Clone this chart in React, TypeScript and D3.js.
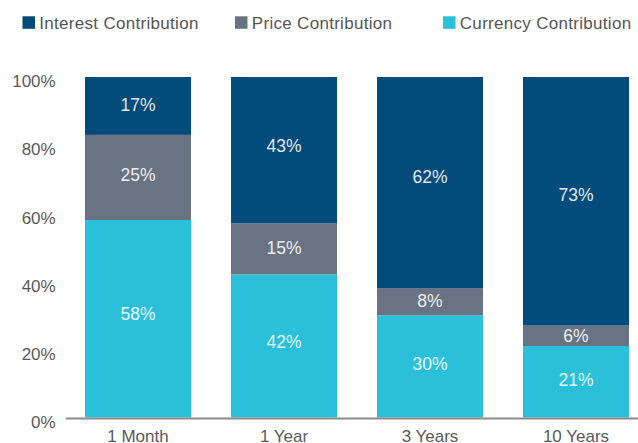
import React from "react";
import * as d3 from "d3";

const categories = ["1 Month", "1 Year", "3 Years", "10 Years"];
const currency = [58, 42, 30, 21];
const price = [25, 15, 8, 6];
const interest = [17, 43, 62, 73];
const seriesNames = ["Interest Contribution", "Price Contribution", "Currency Contribution"];
const yTicks = [0, 20, 40, 60, 80, 100];

const colors: Record<string, string> = {
  currency: "#2ac0da",
  price: "#687384",
  interest: "#034b7a",
};

const W = 638;
const H = 443;
const FONT = "'Liberation Sans', Arial, Helvetica, sans-serif";

export default function App() {
  const x = d3
    .scaleBand<string>()
    .domain(categories)
    .range([54, 660])
    .paddingInner(40 / 146)
    .paddingOuter(31 / 146);
  const y = d3.scaleLinear().domain([0, 100]).range([417.5, 77]);

  const rows = categories.map((c, i) => ({
    cat: c,
    currency: currency[i],
    price: price[i],
    interest: interest[i],
  }));
  const stack = d3.stack<any>().keys(["currency", "price", "interest"]);
  const layers = stack(rows);

  const legendX = [22.5, 235, 443];
  const legendColors = [colors.interest, colors.price, colors.currency];

  return (
    <svg
      width={W}
      height={H}
      style={{ position: "absolute", left: 0, top: 0, background: "#fff" }}
      fontFamily={FONT}
    >
      {/* legend */}
      {seriesNames.map((n, i) => (
        <g key={n}>
          <rect x={legendX[i]} y={16.3} width={12.5} height={12.5} fill={legendColors[i]} />
          <text
            x={legendX[i] + 16.8}
            y={28.7}
            fontSize={17}
            fill="#555"
            letterSpacing={0.3}
          >
            {n}
          </text>
        </g>
      ))}

      {/* bars */}
      {layers.map((layer) => (
        <g key={layer.key} fill={colors[layer.key]}>
          {layer.map((d, i) => (
            <rect
              key={i}
              x={x(categories[i])}
              y={y(d[1])}
              width={x.bandwidth()}
              height={y(d[0]) - y(d[1])}
            />
          ))}
        </g>
      ))}

      {/* bar labels */}
      {layers.map((layer) => (
        <g key={layer.key + "-lbl"}>
          {layer.map((d, i) => {
            const top = y(d[1]);
            const bot = y(d[0]);
            const h = bot - top;
            const cy = (top + bot) / 2 - 0.028 * h;
            return (
              <text
                key={i}
                x={(x(categories[i]) as number) + x.bandwidth() / 2}
                y={cy + 6.3}
                textAnchor="middle"
                fontSize={17.5}
                fill="#ffffff"
                fillOpacity={0.9}
              >
                {`${d[1] - d[0]}%`}
              </text>
            );
          })}
        </g>
      ))}

      {/* baseline */}
      <line x1={65.7} x2={W} y1={y(0) + 1} y2={y(0) + 1} stroke="#8a8a8a" strokeWidth={2} />

      {/* y ticks */}
      {yTicks.map((t) => (
        <text
          key={t}
          x={55.7}
          y={y(t) + 10.3}
          textAnchor="end"
          fontSize={17}
          fill="#595959"
        >
          {`${t}%`}
        </text>
      ))}

      {/* x labels */}
      {categories.map((c) => (
        <text
          key={c}
          x={(x(c) as number) + x.bandwidth() / 2}
          y={441.5}
          textAnchor="middle"
          fontSize={17}
          fill="#595959"
        >
          {c}
        </text>
      ))}
    </svg>
  );
}
